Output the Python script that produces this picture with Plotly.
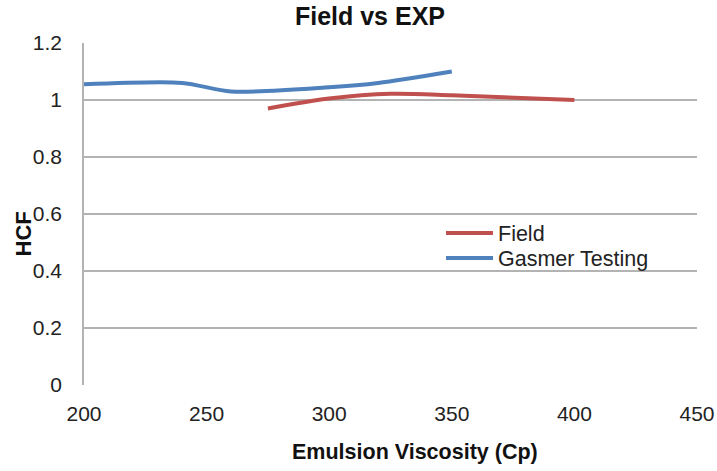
import plotly.graph_objects as go

# Field measurements
field_visc = [275, 300, 325, 350, 400]
field_hcf = [0.97, 1.005, 1.022, 1.017, 1.0]

# Gasmer lab testing
gasmer_visc = [200, 240, 260, 300, 320, 350]
gasmer_hcf = [1.055, 1.06, 1.03, 1.045, 1.06, 1.10]

x_ticks = [200, 250, 300, 350, 400, 450]
y_ticks = [0, 0.2, 0.4, 0.6, 0.8, 1.0, 1.2]
y_tick_text = ["0", "0.2", "0.4", "0.6", "0.8", "1", "1.2"]

FONT = "Liberation Sans, Arial, sans-serif"
GRID = "#B3B3B3"
W, H = 717, 471
ML, MR, MT, MB = 84, 20, 43, 86
PW, PH = W - ML - MR, H - MT - MB


def px_x(px):
    return (px - ML) / PW


def px_y(py):
    return (H - MB - py) / PH


fig = go.Figure()
fig.add_trace(go.Scatter(
    x=field_visc, y=field_hcf, name="Field", mode="lines", legend="legend",
    line=dict(color="#C0504D", width=4, shape="spline", smoothing=0.8),
))
fig.add_trace(go.Scatter(
    x=gasmer_visc, y=gasmer_hcf, name="Gasmer Testing", mode="lines", legend="legend2",
    line=dict(color="#4F81BD", width=4, shape="spline", smoothing=0.8),
))

legend_style = dict(xanchor="left", yanchor="middle", bgcolor="rgba(0,0,0,0)",
                    font=dict(size=21.5, color="#222222"), itemwidth=47)

fig.update_layout(
    width=W, height=H,
    margin=dict(l=ML, r=MR, t=MT, b=MB, autoexpand=False),
    paper_bgcolor="white", plot_bgcolor="white",
    font=dict(family=FONT, size=20, color="#222222"),
    title=dict(text="<b>Field vs EXP</b>", x=0.516, xanchor="center",
               y=0.966, yanchor="middle", font=dict(size=25, color="#111111")),
    showlegend=True,
    legend=dict(x=px_x(441), y=px_y(233), **legend_style),
    legend2=dict(x=px_x(441), y=px_y(258), **legend_style),
    annotations=[
        dict(text="<b>Emulsion Viscosity (Cp)</b>", xref="paper", yref="paper",
             x=px_x(415), y=px_y(452), xanchor="center", yanchor="middle",
             showarrow=False, font=dict(size=21.5, color="#111111")),
        dict(text="<b>HCF</b>", xref="paper", yref="paper", textangle=-90,
             x=px_x(22.5), y=px_y(234), xanchor="center", yanchor="middle",
             showarrow=False, font=dict(size=22, color="#111111")),
    ],
)
fig.update_xaxes(
    range=[200, 450], tickvals=x_ticks, showgrid=False, zeroline=False,
    showline=False, ticks="", ticklen=0, ticklabelstandoff=14,
    automargin=False, tickfont=dict(size=21, color="#222222"),
)
fig.update_yaxes(
    range=[0, 1.2], tickvals=y_ticks, ticktext=y_tick_text,
    showgrid=True, gridcolor=GRID, gridwidth=1.5, zeroline=False,
    showline=True, linecolor=GRID, linewidth=1.5, ticks="",
    ticklabelstandoff=16, automargin=False,
    tickfont=dict(size=21, color="#222222"),
)

fig.write_html("out.html")
